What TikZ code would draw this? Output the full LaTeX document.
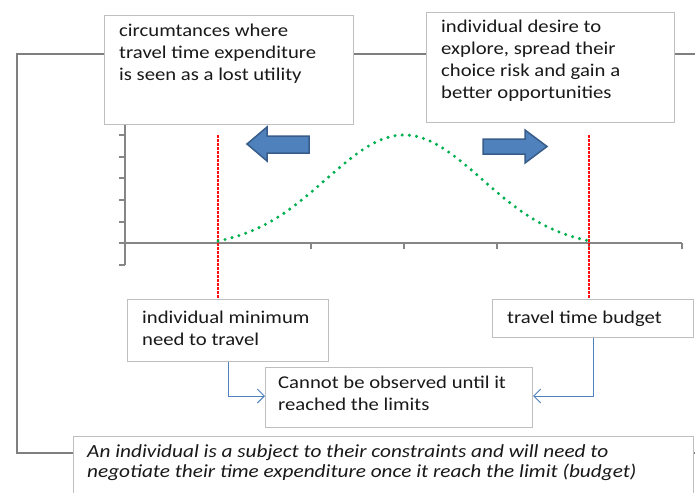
\documentclass[tikz,border=0pt]{standalone}
\usepackage{fontspec}
\setmainfont{Carlito}[FakeStretch=1.15]
\usetikzlibrary{arrows.meta,calc}
\definecolor{boxline}{HTML}{BFBFBF}
\definecolor{brk}{HTML}{7F7F7F}
\definecolor{axisgray}{HTML}{868686}
\definecolor{arrblue}{HTML}{4F81BD}
\definecolor{arrdark}{HTML}{385D8A}
\definecolor{curvegreen}{HTML}{00B050}
\definecolor{limitred}{HTML}{FF1010}
\tikzset{
  box/.style={draw=boxline, line width=1pt, fill=white, inner sep=0pt, anchor=north west},
  txt/.style={anchor=base west, inner sep=0pt, font=\fontsize{18}{22}\selectfont, text=black!90},
  itxt/.style={anchor=base west, inner sep=0pt, font=\fontsize{18.5}{20}\selectfont\itshape, text=black!90},
  bracket/.style={draw=brk, line width=2.2pt},
  axisline/.style={draw=axisgray, line width=1.2pt},
  limitline/.style={draw=limitred, line width=1.4pt, dash pattern=on 2.5pt off 1.5pt},
  blockarrow/.style={fill=arrblue, draw=arrdark, line width=1.5pt, line join=miter},
  conn/.style={draw=arrblue, line width=1pt, -{Straight Barb[length=7pt,width=14pt]}},
}
\begin{document}
\begin{tikzpicture}[x=1pt,y=-1pt]
\useasboundingbox (0,0) rectangle (695,492);
\clip (0,0) rectangle (695,492);
\fill[white] (0,0) rectangle (695,492);
% bracket
\coordinate (bA) at (17,54);
\coordinate (bB) at (17,453);
\coordinate (bC) at (74,453);
\coordinate (bR) at (700,54);
\draw[bracket] (bR) -- (bA) -- (bB) -- (bC);
\coordinate (bS1) at (692,453);
\coordinate (bS2) at (700,453);
\draw[bracket] (bS1) -- (bS2);
% axes
\coordinate (yTop) at (125,120);
\coordinate (yBot) at (125,265);
\draw[axisline] (yTop) -- (yBot);
\foreach \yy in {135,157,178,200,222,265} \draw[axisline] (119,\yy) -- (125,\yy);
\coordinate (xL) at (119,243);
\coordinate (xR) at (682,243);
\draw[axisline] (xL) -- (xR);
\foreach \xx in {311,404,497,589,682} \draw[axisline] (\xx,243) -- (\xx,249);
% limit lines
\coordinate (rL1) at (218,135);
\coordinate (rL2) at (218,300);
\coordinate (rR1) at (589,135);
\coordinate (rR2) at (589,300);
\draw[limitline] (rL1) -- (rL2);
\draw[limitline] (rR1) -- (rR2);
% curve
\draw[curvegreen, line width=3.4pt, line cap=round, dash pattern=on 0pt off 7.2pt]
  plot[domain=218:589, samples=120, smooth] (\x, {241 - 106*(exp(-0.5*((\x-404)/78)^2) - 0.0585)/(1-0.0585)});
% block arrows
\draw[blockarrow] (247,144) -- (267,127) -- (267,136) -- (309,136) -- (309,153) -- (267,153) -- (267,161) -- cycle;
\draw[blockarrow] (483,139) -- (525,139) -- (525,130) -- (547,146.5) -- (525,163) -- (525,154) -- (483,154) -- cycle;
% top boxes
\node[box, minimum width=249pt, minimum height=109pt] (lost) at (104,15) {};
\node[txt] (lostT) at (119,37) {\vtop{\hbox{circumtances where}\hbox{travel time expenditure}\hbox{is seen as a lost utility}}};
\node[box, minimum width=248pt, minimum height=110pt] (desire) at (426,12) {};
\node[txt] (desireT) at (441,33) {\vtop{\hbox{individual desire to}\hbox{explore, spread their}\hbox{choice risk and gain a}\hbox{better opportunities}}};
% lower boxes
\node[box, minimum width=201pt, minimum height=62pt] (minb) at (127,299) {};
\node[txt] (minT) at (142,323) {\vtop{\hbox{individual minimum}\hbox{need to travel}}};
\node[box, minimum width=201pt, minimum height=38pt] (budget) at (492,299) {};
\node[txt] (budgetT) at (507,323) {travel time budget};
\node[box, minimum width=267pt, minimum height=60pt] (obs) at (265,367) {};
\node[txt] (obsT) at (278,388) {\vtop{\hbox{Cannot be observed until it}\hbox{reached the limits}}};
\node[box, minimum width=620pt, minimum height=80pt] (subj) at (73,436) {};
\node[itxt] (subjT) at (87,457) {\vtop{\hbox{An individual is a subject to their constraints and will need to}\hbox{negotiate their time expenditure once it reach the limit (budget)}}};
% connectors
\draw[conn] ($(minb.south west)+(101,0)$) |- (obs.west |- 0,396);
\draw[conn] ($(budget.south west)+(101,0)$) |- (obs.east |- 0,396);
\end{tikzpicture}
\end{document}
